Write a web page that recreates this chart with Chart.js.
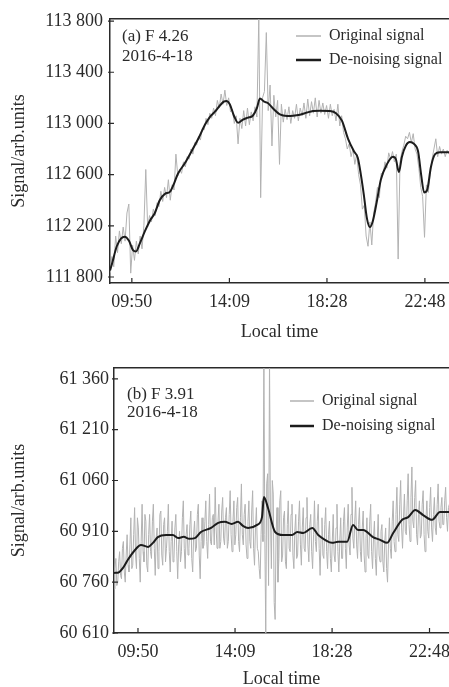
<!DOCTYPE html>
<html lang="en">
<head>
    <meta charset="UTF-8">
    <title>Signal de-noising</title>
    <script src="https://cdn.jsdelivr.net/npm/chart.js"></script>
    <style>
        html, body { margin: 0; padding: 0; background: #fff; overflow: hidden; }
        canvas { position: absolute; left: 0; }
        #chartA { top: 0; }
        #chartB { top: 343px; }
    </style>
</head>
<body>
    <canvas id="chartA" width="449" height="343"></canvas>
    <canvas id="chartB" width="449" height="347"></canvas>
    <script>
        // x axis in minutes after midnight
        const timeTicks = [590, 849, 1108, 1368];
        const timeLabels = ['09:50', '14:09', '18:28', '22:48'];

        // (a) F 4.26 - original samples every 5 min from 532
        const aStart = 532, aStep = 5;
        const aOriginal = [
            111830, 111960, 111880, 112120, 111990, 112160, 112060, 112190, 112080, 112300,
            112370, 111830, 112050, 111930, 112080, 111980, 112120, 112020, 112200, 112640,
            112190, 112280, 112230, 112330, 112280, 112380, 112350, 112470, 112390, 112500,
            112420, 112560, 112400, 112520, 112480, 112760, 112590, 112640, 112610, 112700,
            112660, 112740, 112720, 112800, 112760, 112850, 112830, 112900, 112870, 112960,
            112950, 113040, 112990, 113080, 113040, 113120, 113060, 113180, 113120, 113230,
            113150, 113260, 113140, 113200, 113090, 113110, 113000, 113060, 112840, 113040,
            112960, 113100, 112980, 113120, 112990, 113090, 113020, 113130, 113050, 113820,
            112420, 113200, 113250, 113710, 113100, 113300, 112824, 113220, 113050, 113180,
            112680, 113150, 113010, 113110, 113030, 113130, 113000, 113100, 113040, 113150,
            113020, 113120, 113060, 113160, 113040, 113190, 113060, 113170, 113080, 113200,
            113050, 113180, 113080, 113160, 113070, 113140, 113040, 113150, 113060, 113110,
            113020, 113150, 112980, 113060, 112930, 112880, 112800, 112840, 112740, 112800,
            112680, 112760, 112600, 112520, 112330, 112360, 112120, 112040, 112230, 112050,
            112300, 112380, 112500, 112420, 112610, 112600, 112700, 112650, 112770, 112720,
            112780, 112700, 112760, 111940, 112700, 112780, 112830, 112900, 112880, 112930,
            112850, 112920, 112800, 112760, 112650, 112500, 112430, 112110, 112520, 112460,
            112600, 112720, 112800, 112880, 112740, 112820, 112760, 112800, 112740, 112790,
            112760
        ];
        const aSmoothTimes = [
            532, 537, 550, 561, 571, 582, 593, 601, 611, 625,
            638, 651, 664, 678, 691, 702, 712, 731, 749, 768,
            784, 797, 810, 824, 834, 842, 850, 861, 872, 885,
            898, 911, 922, 930, 941, 951, 967, 983, 1002, 1018,
            1036, 1055, 1071, 1089, 1116, 1132, 1148, 1164, 1180, 1190,
            1198, 1206, 1214, 1222, 1230, 1241, 1251, 1267, 1283, 1291,
            1299, 1307, 1318, 1328, 1339, 1350, 1358, 1366, 1374, 1384,
            1395, 1408, 1432
        ];
        const aSmooth = [
            111850, 111900, 112040, 112100, 112115, 112085, 112010, 112000, 112060, 112160,
            112240, 112300, 112400, 112450, 112465, 112530, 112605, 112690, 112785, 112890,
            112990, 113050, 113090, 113140, 113170, 113175, 113150, 113060, 113005, 113030,
            113045, 113060, 113120, 113195, 113170, 113160, 113110, 113070, 113058, 113060,
            113068, 113085, 113097, 113100, 113097, 113080, 113020, 112880, 112780, 112730,
            112600, 112440, 112260, 112190, 112240, 112400, 112560, 112680, 112740, 112720,
            112620, 112740, 112830, 112855, 112840, 112780, 112600, 112460, 112480, 112660,
            112760, 112775, 112775
        ];
        const aYTicks = [111800, 112200, 112600, 113000, 113400, 113800];

        // (b) F 3.91 - original samples every 2.5 min from 526
        const bStart = 526, bStep = 2.5;
        const bOriginal = [
            60740, 60800, 60830, 60750, 60760, 60820, 60850, 60780, 60770, 60860, 60880, 60790, 60760, 60840, 60900, 60810, 60790, 60870, 60950, 60800,
            60810, 60900, 60980, 60840, 60800, 60950, 60920, 60830, 60760, 60880, 60990, 60850, 60820, 60960, 60940, 60810, 60790, 60900, 60960, 60850,
            60830, 60940, 60990, 60860, 60780, 60890, 60920, 60800, 60850, 60960, 60970, 60840, 60810, 60930, 60950, 60820, 60860, 60910, 60990, 60850,
            60790, 60880, 60940, 60820, 60830, 60920, 60960, 60850, 60770, 60870, 60910, 60820, 60850, 60950, 61000, 60860, 60800, 60900, 60930, 60840,
            60860, 60930, 60970, 60830, 60790, 60900, 60940, 60850, 60860, 60960, 60990, 60840, 60770, 60880, 60950, 60860, 60870, 60940, 61000, 60880,
            60830, 60930, 61020, 60880, 60870, 60950, 60960, 60870, 61040, 60920, 60860, 60940, 60990, 60860, 60880, 60970, 61010, 60890, 60870, 60950,
            60980, 60860, 60880, 60960, 61030, 60900, 60850, 60940, 61000, 60870, 60900, 60980, 61010, 60880, 60850, 60950, 61050, 60900, 60870, 60960,
            60990, 60870, 60830, 60940, 61000, 60880, 60860, 60970, 61030, 60860, 60810, 60920, 60980, 60860, 60850, 60800, 60770, 60900, 61000, 60880,
            61420, 60900, 60610, 61050, 61080, 60750, 61420, 60950, 60800, 61060, 61020, 60700, 60650, 60900, 60980, 60760, 60830, 61000, 61030, 60820,
            60840, 60950, 60970, 60820, 60800, 60930, 61000, 60860, 60850, 60960, 60990, 60840, 60800, 60910, 60960, 60830, 60840, 60940, 61000, 60870,
            60810, 60920, 60980, 60860, 60850, 60950, 61010, 60870, 60820, 60930, 60960, 60850, 60800, 60900, 61000, 60880, 60850, 60940, 60990, 60860,
            60780, 60890, 60950, 60840, 60830, 60930, 60980, 60850, 60800, 60900, 60940, 60830, 60790, 60880, 60960, 60840, 60820, 60920, 60990, 60850,
            60790, 60880, 60950, 60830, 60830, 60940, 60980, 60860, 60800, 60920, 60990, 60870, 60840, 60960, 61040, 60890, 60860, 60940, 61000, 60870,
            60830, 60930, 60980, 60850, 60820, 60920, 60970, 60840, 60790, 60890, 60950, 60840, 60830, 60940, 60990, 60850, 60800, 60890, 60940, 60830,
            60780, 60880, 60960, 60840, 60820, 60910, 60930, 60820, 60790, 60880, 60920, 60800, 60760, 60870, 60950, 60860, 60830, 60940, 61000, 60880,
            60850, 60960, 61040, 60900, 60880, 60990, 61060, 60920, 60860, 60950, 61020, 60910, 60900, 61000, 61080, 60930, 60880, 61010, 61100, 60940,
            60920, 61010, 61060, 60900, 60870, 60960, 61000, 60890, 60900, 60990, 61030, 60900, 60850, 60950, 61000, 60910, 60890, 60980, 61040, 60920,
            60880, 60960, 61010, 60920, 60900, 60990, 61050, 60940, 60920, 60980, 61010, 60930, 60930, 61000, 61040, 60950, 60910, 60980, 60990, 60940
        ];
        const bSmoothTimes = [
            526, 540, 550, 563, 582, 598, 617, 630, 643, 665,
            683, 697, 712, 727, 742, 758, 785, 804, 822, 840,
            857, 870, 884, 908, 921, 926, 937, 956, 977, 1001,
            1015, 1031, 1055, 1071, 1089, 1108, 1124, 1148, 1164, 1177,
            1191, 1217, 1236, 1255, 1271, 1295, 1311, 1330, 1351, 1375,
            1396, 1420
        ];
        const bSmooth = [
            60787, 60790, 60802, 60826, 60855, 60870, 60864, 60876, 60893, 60899,
            60899, 60890, 60894, 60888, 60890, 60908, 60920, 60935, 60938, 60932,
            60938, 60926, 60920, 60929, 60952, 61011, 60979, 60908, 60899, 60899,
            60908, 60905, 60920, 60899, 60885, 60876, 60879, 60879, 60929, 60914,
            60914, 60893, 60885, 60876, 60905, 60944, 60952, 60973, 60958, 60944,
            60967, 60967
        ];
        const bYTicks = [60610, 60760, 60910, 61060, 61210, 61360];

        const serif = "'Liberation Serif', 'Times New Roman', serif";
        const ink = '#2a2a2a';

        function fmtThousands(v) {
            return Math.floor(v / 1000) + ' ' + String(v % 1000).padStart(3, '0');
        }

        // no extra room for edge labels: the plot runs right up to the canvas edge
        function noEdgePadding(s) {
            s.paddingLeft = 0;
            s.paddingRight = 0;
            s.paddingTop = 0;
            s.paddingBottom = 0;
        }

        // inward tick marks, panel note and legend inside the plot
        const decor = {
            id: 'decor',
            afterDraw(chart, args, opts) {
                const ctx = chart.ctx, area = chart.chartArea;
                const xs = chart.scales.x, ys = chart.scales.y;
                ctx.save();
                ctx.strokeStyle = ink;
                ctx.lineWidth = 1.2;
                ctx.beginPath();
                xs.ticks.forEach(t => {
                    const px = xs.getPixelForValue(t.value);
                    ctx.moveTo(px, area.bottom);
                    ctx.lineTo(px, area.bottom - 5);
                });
                ys.ticks.forEach(t => {
                    const py = ys.getPixelForValue(t.value);
                    ctx.moveTo(area.left - 2, py);
                    ctx.lineTo(area.left + 4, py);
                });
                ctx.stroke();

                ctx.fillStyle = ink;
                ctx.textBaseline = 'middle';
                ctx.font = '17px ' + serif;
                opts.note.forEach((s, i) => ctx.fillText(s, opts.noteX, opts.noteY[i]));

                ctx.font = '16px ' + serif;
                chart.data.datasets.forEach((ds, i) => {
                    const y = opts.legendY[i];
                    ctx.strokeStyle = ds.borderColor;
                    ctx.lineWidth = ds.borderWidth + 0.5;
                    ctx.beginPath();
                    ctx.moveTo(opts.legendX, y);
                    ctx.lineTo(opts.legendX + opts.legendLen, y);
                    ctx.stroke();
                    ctx.fillText(ds.label, opts.legendX + opts.legendLen + 8, y);
                });
                ctx.restore();
            }
        };

        function makeChart(id, p) {
            const ctx = document.getElementById(id).getContext('2d');
            return new Chart(ctx, {
                type: 'line',
                data: {
                    datasets: [
                        {
                            label: 'Original signal',
                            data: p.original.map((v, i) => ({ x: p.start + i * p.step, y: v })),
                            borderColor: '#b2b2b2',
                            borderWidth: 1,
                            pointRadius: 0,
                            order: 1
                        },
                        {
                            label: 'De-noising signal',
                            data: p.smoothTimes.map((t, i) => ({ x: t, y: p.smooth[i] })),
                            borderColor: '#1c1c1c',
                            borderWidth: 2,
                            pointRadius: 0,
                            cubicInterpolationMode: 'monotone',
                            order: 0
                        }
                    ]
                },
                options: {
                    responsive: false,
                    animation: false,
                    devicePixelRatio: 1,
                    layout: { autoPadding: false, padding: { top: p.top, left: 0, right: 0, bottom: 0 } },
                    scales: {
                        x: {
                            type: 'linear',
                            position: 'bottom',
                            min: p.xMin,
                            max: p.xMax,
                            afterBuildTicks: s => { s.ticks = timeTicks.map(v => ({ value: v })); },
                            afterFit: s => { s.height = p.xHeight; noEdgePadding(s); },
                            grid: { display: false, drawTicks: false },
                            border: { color: ink, width: 1.5 },
                            ticks: {
                                padding: 8,
                                color: ink,
                                font: { family: serif, size: 18 },
                                maxRotation: 0,
                                callback: v => timeLabels[timeTicks.indexOf(v)]
                            },
                            title: {
                                display: true,
                                text: 'Local time',
                                color: ink,
                                padding: 0,
                                font: { family: serif, size: 18 }
                            }
                        },
                        x2: {
                            type: 'linear',
                            position: 'top',
                            min: p.xMin,
                            max: p.xMax,
                            afterFit: s => { s.height = 0; noEdgePadding(s); },
                            grid: { display: false, drawTicks: false },
                            border: { color: ink, width: 1.5 },
                            ticks: { display: false }
                        },
                        y: {
                            min: p.yMin,
                            max: p.yMax,
                            afterBuildTicks: s => { s.ticks = p.yTicks.map(v => ({ value: v })); },
                            afterFit: s => { s.width = p.yWidth; noEdgePadding(s); },
                            grid: { display: false, drawTicks: false },
                            border: { color: ink, width: 1.5 },
                            ticks: {
                                padding: p.yPad,
                                color: ink,
                                font: { family: serif, size: 18 },
                                callback: v => fmtThousands(v)
                            },
                            title: {
                                display: true,
                                text: 'Signal/arb.units',
                                color: ink,
                                padding: { top: 8, bottom: 8 },
                                font: { family: serif, size: 18 }
                            }
                        }
                    },
                    plugins: {
                        legend: { display: false },
                        tooltip: { enabled: false },
                        decor: {
                            note: p.note,
                            noteX: p.noteX,
                            noteY: p.noteY,
                            legendX: p.legendX,
                            legendLen: p.legendLen,
                            legendY: p.legendY
                        }
                    }
                },
                plugins: [decor]
            });
        }

        makeChart('chartA', {
            original: aOriginal, start: aStart, step: aStep,
            smoothTimes: aSmoothTimes, smooth: aSmooth,
            xMin: 532, xMax: 1432, yMin: 111753, yMax: 113816, yTicks: aYTicks,
            top: 19, xHeight: 60, yWidth: 110, yPad: 7,
            note: ['(a) F 4.26', '2016-4-18'], noteX: 122, noteY: [37, 57],
            legendX: 296, legendLen: 25, legendY: [36, 60]
        });

        makeChart('chartB', {
            original: bOriginal, start: bStart, step: bStep,
            smoothTimes: bSmoothTimes, smooth: bSmooth,
            xMin: 526, xMax: 1420, yMin: 60610, yMax: 61392, yTicks: bYTicks,
            top: 25, xHeight: 57, yWidth: 114, yPad: 5,
            note: ['(b) F 3.91', '2016-4-18'], noteX: 127, noteY: [52, 70],
            legendX: 290, legendLen: 24, legendY: [58, 83]
        });
    </script>
</body>
</html>
